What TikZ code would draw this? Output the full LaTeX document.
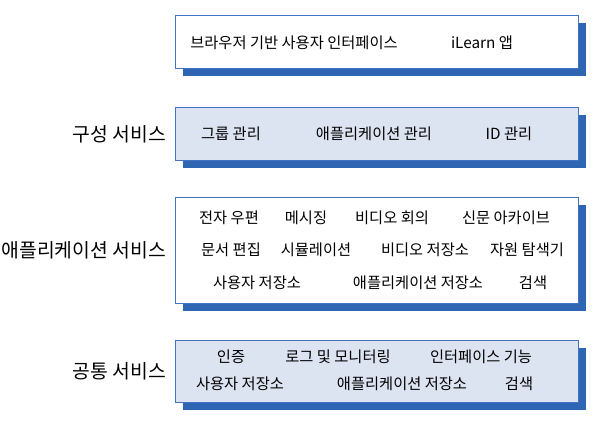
\documentclass[tikz,border=0pt]{standalone}
\usepackage{fontspec}
\setmainfont{Noto Sans CJK KR}
\definecolor{bord}{HTML}{4472C4}
\definecolor{shad}{HTML}{2E66B4}
\definecolor{lfill}{HTML}{DCE3F1}
\begin{document}
\begin{tikzpicture}[x=1pt,y=-1pt,
  lay/.style={draw=bord,line width=0.9pt},
  it/.style={font=\fontsize{15.3}{17}\selectfont,anchor=center,inner sep=0pt},
  lab/.style={font=\fontsize{19.3}{21}\selectfont,anchor=east,inner sep=0pt}]
\useasboundingbox (0,0) rectangle (600,432);
\newcommand\layerbox[4]{%
  \fill[shad] (#1+8,#2+8) rectangle (586,#3+8);
  \filldraw[lay,fill=#4] (#1,#2) rectangle (578,#3);}
\layerbox{175}{15}{68}{white}
\layerbox{175}{107}{160}{lfill}
\layerbox{175}{197}{303}{white}
\layerbox{175}{340}{402}{lfill}
\node[it] (a1) at (294,43) {브라우저 기반 사용자 인터페이스};
\node[it] (a2) at (482,43) {iLearn 앱};
\node[lab] (l2) at (166,134) {구성 서비스};
\node[it] (b1) at (231,134) {그룹 관리};
\node[it] (b2) at (374,134) {애플리케이션 관리};
\node[it] (b3) at (509,134) {ID 관리};
\node[lab] (l3) at (166,250) {애플리케이션 서비스};
\node[it] (c1) at (229,218) {전자 우편};
\node[it] (c2) at (306,218) {메시징};
\node[it] (c3) at (392,218) {비디오 회의};
\node[it] (c4) at (506,218) {신문 아카이브};
\node[it] (c5) at (231,250) {문서 편집};
\node[it] (c6) at (316,250) {시뮬레이션};
\node[it] (c7) at (425,250) {비디오 저장소};
\node[it] (c8) at (527,250) {자원 탐색기};
\node[it] (c9) at (257,283) {사용자 저장소};
\node[it] (c10) at (418,283) {애플리케이션 저장소};
\node[it] (c11) at (533,283) {검색};
\node[lab] (l4) at (166,371) {공통 서비스};
\node[it] (d1) at (231,357) {인증};
\node[it] (d2) at (338,357) {로그 및 모니터링};
\node[it] (d3) at (481,357) {인터페이스 기능};
\node[it] (d4) at (240,384) {사용자 저장소};
\node[it] (d5) at (402,384) {애플리케이션 저장소};
\node[it] (d6) at (519,384) {검색};
\end{tikzpicture}
\end{document}
